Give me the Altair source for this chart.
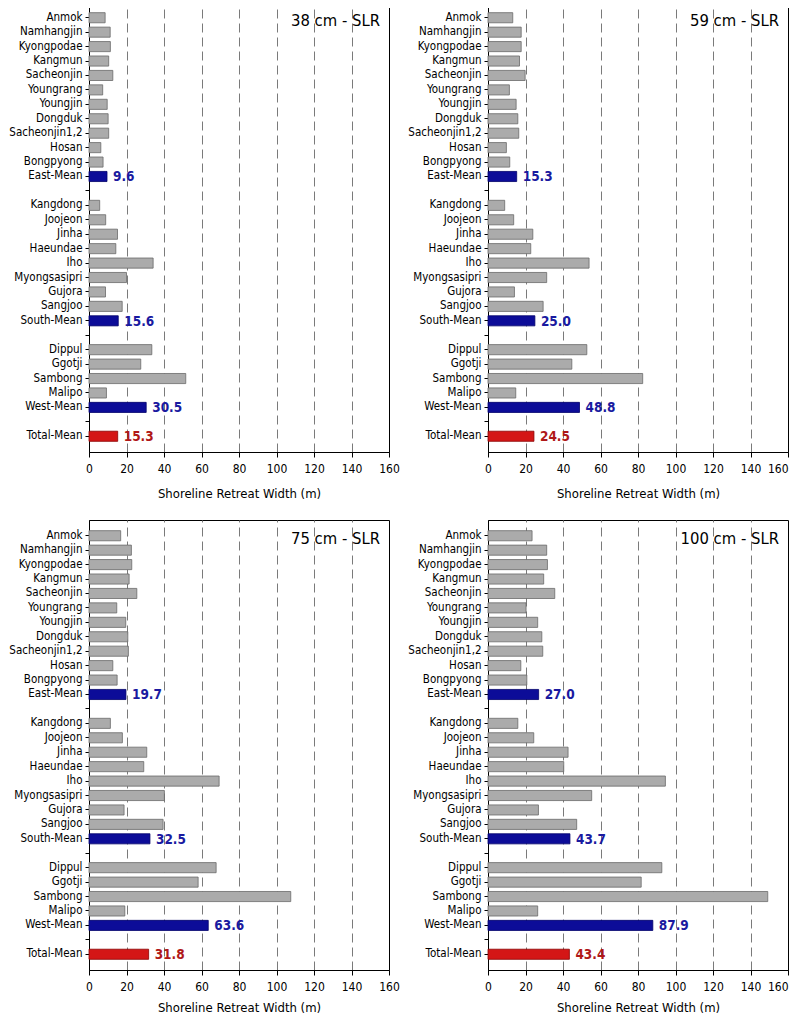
import altair as alt
import pandas as pd

FONT = "DejaVu Sans Condensed, DejaVu Sans"

scenarios = ["38 cm - SLR", "59 cm - SLR", "75 cm - SLR", "100 cm - SLR"]

east_sites = ["Anmok", "Namhangjin", "Kyongpodae", "Kangmun", "Sacheonjin", "Youngrang",
              "Youngjin", "Dongduk", "Sacheonjin1,2", "Hosan", "Bongpyong"]
south_sites = ["Kangdong", "Joojeon", "Jinha", "Haeundae", "Iho", "Myongsasipri", "Gujora", "Sangjoo"]
west_sites = ["Dippul", "Ggotji", "Sambong", "Malipo"]

# site values per scenario (east, south, west)
east_38 = [8.6, 11.3, 11.4, 10.5, 12.7, 7.3, 9.7, 10.2, 10.5, 6.3, 7.5]
south_38 = [5.7, 8.9, 15.2, 14.3, 34.2, 20.0, 8.8, 17.7]
west_38 = [33.5, 27.6, 51.6, 9.3]
means_38 = [9.6, 15.6, 30.5, 15.3]

east_59 = [13.2, 17.7, 17.7, 16.8, 19.8, 11.4, 15.0, 15.9, 16.4, 9.8, 11.6]
south_59 = [8.9, 13.7, 23.9, 22.8, 53.9, 31.3, 14.1, 29.4]
west_59 = [52.7, 44.7, 82.5, 14.8]
means_59 = [15.3, 25.0, 48.8, 24.5]

east_75 = [16.9, 22.6, 22.8, 21.4, 25.5, 14.8, 19.6, 20.7, 21.0, 12.7, 15.0]
south_75 = [11.4, 17.8, 30.8, 29.2, 69.4, 40.2, 18.7, 39.5]
west_75 = [67.8, 58.2, 107.6, 19.1]
means_75 = [19.7, 32.5, 63.6, 31.8]

east_100 = [23.5, 31.3, 31.7, 29.7, 35.6, 20.3, 26.5, 28.7, 29.2, 17.5, 20.7]
south_100 = [15.9, 24.4, 42.7, 40.4, 94.6, 55.3, 26.9, 47.3]
west_100 = [92.7, 81.7, 149.2, 26.5]
means_100 = [27.0, 43.7, 87.9, 43.4]

mean_names = ["East-Mean", "South-Mean", "West-Mean", "Total-Mean"]
site_order = (east_sites + ["East-Mean", " "] + south_sites + ["South-Mean", "  "]
              + west_sites + ["West-Mean", "   "] + ["Total-Mean"])
x_ticks = [0, 20, 40, 60, 80, 100, 120, 140, 160]

panel_data = {
    scenarios[0]: (east_38, south_38, west_38, means_38),
    scenarios[1]: (east_59, south_59, west_59, means_59),
    scenarios[2]: (east_75, south_75, west_75, means_75),
    scenarios[3]: (east_100, south_100, west_100, means_100),
}

kinds = ["site", "mean", "total"]
fills = ["#ababab", "#0c0c98", "#d41616"]
strokes = ["#6a6a6a", "#00006a", "#8a0000"]
text_colors = ["#1a1aa0", "#b01818"]


def make_df(scen):
    e, s, w, m = panel_data[scen]
    rows = []
    for name, v in zip(east_sites + south_sites + west_sites, e + s + w):
        rows.append({"site": name, "value": v, "kind": "site"})
    for name, v in zip(mean_names, m):
        rows.append({"site": name, "value": v, "kind": "total" if name == "Total-Mean" else "mean"})
    return pd.DataFrame(rows)


def panel(scen, right_col, bottom_row):
    d = make_df(scen)
    yenc = alt.Y("site:N",
                 scale=alt.Scale(domain=site_order, paddingInner=0.3, paddingOuter=0.74),
                 axis=alt.Axis(title=None, labelFont=FONT, labelFontSize=11.5, labelColor="#000",
                               tickSize=4, tickColor="#000", labelPadding=3,
                               domainColor="#000", labelLimit=200))
    if right_col:
        label_align = {"condition": {"test": "datum.value === 160", "value": "right"}, "value": "center"}
    else:
        label_align = "center"
    xenc = alt.X("value:Q",
                 scale=alt.Scale(domain=[0, 160], nice=False),
                 axis=alt.Axis(values=x_ticks, tickCount=9, labelOverlap=False, labelFlush=False,
                               labelAlign=label_align,
                               title="Shoreline Retreat Width (m)", titleFont=FONT,
                               titleFontSize=13, titleFontWeight="normal", titleColor="#000",
                               titlePadding=9 if bottom_row else 13,
                               labelFont=FONT, labelFontSize=12,
                               labelColor="#000", labelPadding=6, tickSize=5,
                               tickColor="#000", domainColor="#000",
                               grid=True, gridColor="#7a7a7a", gridDash=[9, 5], gridWidth=1,
                               gridOpacity={"condition": {"test": "datum.value === 0 || datum.value === 160",
                                                          "value": 0}, "value": 1}))
    base = alt.Chart(d)
    bars = base.mark_bar(strokeWidth=0.8).encode(
        y=yenc, x=xenc,
        fill=alt.Fill("kind:N", scale=alt.Scale(domain=kinds, range=fills), legend=None),
        stroke=alt.Stroke("kind:N", scale=alt.Scale(domain=kinds, range=strokes), legend=None),
    )
    labels = base.transform_filter("datum.kind != 'site'").mark_text(
        align="left", baseline="middle", dx=6, dy=1, font=FONT, fontSize=13.5, fontWeight="bold"
    ).encode(
        y=yenc, x=xenc,
        text=alt.Text("value:Q", format=".1f"),
        color=alt.Color("kind:N", scale=alt.Scale(domain=["mean", "total"], range=text_colors), legend=None),
    )
    title = alt.Chart(pd.DataFrame({"t": [scen]})).mark_text(
        align="right", baseline="middle", font=FONT, fontSize=16.5, color="#000"
    ).encode(text="t:N", x=alt.value(291), y=alt.value(18.5))
    return alt.layer(bars, labels, title).properties(width=300, height=450)


top = alt.hconcat(panel(scenarios[0], False, False), panel(scenarios[1], True, False), spacing=7)
bottom = alt.hconcat(panel(scenarios[2], False, True), panel(scenarios[3], True, True), spacing=7)
chart = alt.vconcat(top, bottom, spacing=18).configure_view(
    stroke="#000", strokeWidth=1
).properties(
    padding={"left": 0, "top": -7, "right": 0, "bottom": 0}
)

chart.save("out.html", embed_options={"renderer": "svg", "actions": False})
